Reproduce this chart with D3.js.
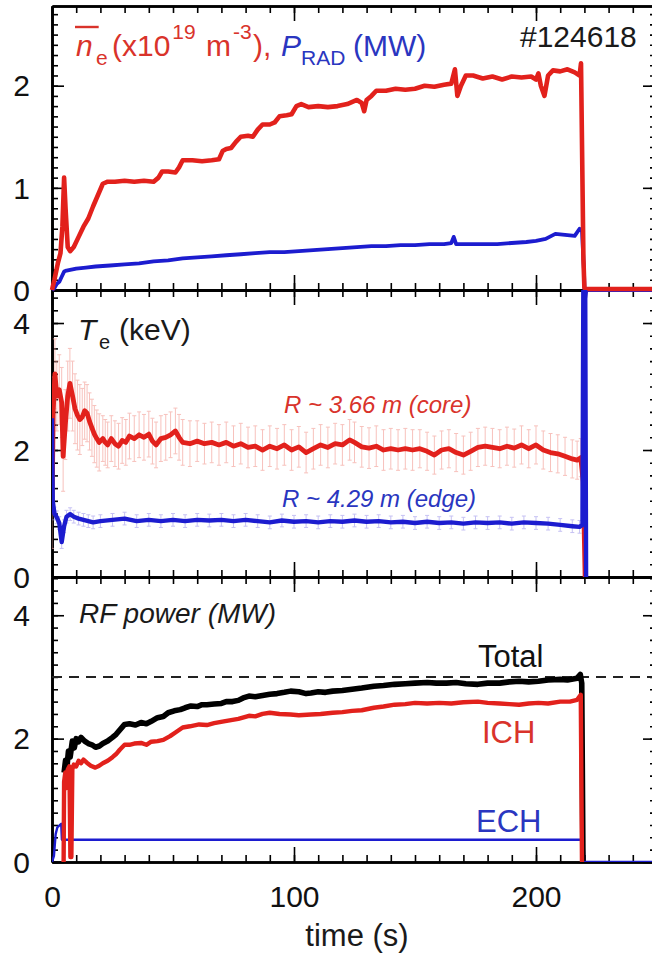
<!DOCTYPE html>
<html>
<head>
<meta charset="utf-8">
<script src="https://cdn.jsdelivr.net/npm/d3@7"></script>
<style>
  html, body { margin: 0; padding: 0; background: #fff; }
  svg { display: block; font-family: "Liberation Sans", Arial, Helvetica, sans-serif; }
  .axis path.domain { stroke: #000; stroke-width: 2.6px; }
  .axis line { stroke: #000; stroke-width: 1.6px; }
  .axis text { font-size: 30px; fill: #111; font-family: "Liberation Sans", Arial, sans-serif; }
</style>
</head>
<body>
<svg id="chart" width="652" height="955"></svg>
<script>
// ---- shot #124618 time traces: [time (s), value] ----

// line-averaged electron density (1e19 m^-3)
const density = [[0,0],[1,0.1],[2.4,0.26],[3.5,0.36],[4.3,0.62],[5,1.1],[5.6,0.8],[6.5,0.42],[7.5,0.38],[9,0.42],
  [11,0.52],[13,0.62],[15,0.7],[17,0.82],[19,0.93],[21,1.04],[23,1.06],[26,1.06],[30,1.07],[34,1.06],[38,1.07],
  [42,1.06],[44,1.1],[45.5,1.16],[48,1.16],[51,1.15],[52.5,1.2],[54,1.27],[58,1.27],[62,1.26],[66,1.27],[69,1.28],
  [70.5,1.36],[72,1.38],[74,1.39],[76,1.45],[78,1.5],[81,1.51],[83,1.5],[85,1.57],[87,1.62],[90,1.62],[92,1.64],
  [94,1.7],[97,1.71],[99,1.72],[101,1.8],[103,1.82],[106,1.79],[110,1.8],[114,1.79],[118,1.8],[122,1.82],[126,1.86],
  [128,1.83],[129,1.75],[130,1.86],[132,1.9],[134,1.95],[138,1.95],[142,1.97],[146,1.96],[150,1.97],[154,2.0],
  [158,1.99],[162,2.01],[165,2.02],[166.5,2.16],[167.5,1.9],[169,2.0],[171,2.1],[174,2.1],[178,2.07],[182,2.09],
  [186,2.06],[190,2.09],[194,2.08],[198,2.09],[200,2.06],[201,2.12],[202,2.0],[203.5,1.9],[205,2.1],[207,2.15],
  [210,2.14],[213,2.16],[216,2.13],[218,2.1],[218.6,2.22],[219.6,0.3],[220,0.02],[221,0.01],[250,0.01]];

// radiated power (MW)
const radiatedPower = [[0,0],[1,0.02],[2,0.06],[3,0.08],[4,0.13],[5,0.18],[6,0.19],[8,0.2],[10,0.21],[14,0.22],
  [18,0.23],[24,0.24],[30,0.25],[36,0.26],[42,0.28],[48,0.29],[54,0.31],[60,0.32],[66,0.33],[72,0.34],[78,0.35],
  [84,0.36],[90,0.37],[96,0.37],[102,0.38],[108,0.39],[114,0.4],[120,0.41],[126,0.42],[132,0.43],[138,0.43],
  [144,0.44],[150,0.44],[156,0.45],[162,0.45],[165,0.46],[166,0.52],[167,0.45],[172,0.45],[178,0.45],[184,0.45],
  [190,0.46],[196,0.47],[200,0.48],[204,0.5],[208,0.55],[212,0.54],[216,0.53],[218,0.6],[219,0.58],[219.8,0.2],
  [220.2,-0.1],[220.8,0.0],[250,0.0]];

// core electron temperature, R ~ 3.66 m (keV)
const coreTe = [[0,1.0],[0.5,2.6],[1.2,3.2],[2,2.85],[3,2.95],[4,2.75],[4.6,1.9],[5.5,2.4],[6.5,2.85],[7.4,3.05],
  [8.5,2.85],[9.5,2.65],[10.5,2.55],[11.5,2.48],[12.5,2.52],[13.5,2.62],[14.5,2.58],[15.5,2.45],[16.5,2.35],
  [17.5,2.25],[18.5,2.18],[19.5,2.12],[21,2.18],[22,2.12],[23,2.08],[24.5,2.18],[26,2.1],[27.5,2.06],[29,2.15],
  [30.5,2.12],[32,2.22],[34,2.18],[36,2.24],[38,2.2],[40,2.25],[41.5,2.14],[43,2.08],[45,2.18],[47,2.2],[49,2.24],
  [51,2.3],[52.5,2.2],[54,2.12],[57,2.1],[60,2.14],[63,2.1],[66,2.12],[69,2.08],[72,2.12],[75,2.06],[78,2.1],
  [81,2.04],[84,2.06],[87,2.0],[90,2.06],[93,2.02],[96,2.08],[99,2.0],[102,2.05],[105,1.96],[108,2.02],[111,2.08],
  [114,2.04],[117,2.1],[120,2.08],[123,2.16],[125,2.12],[128,2.05],[131,2.03],[134,2.06],[137,2.0],[140,2.02],
  [143,2.0],[146,2.02],[149,2.0],[152,2.02],[155,1.98],[158,1.92],[161,2.0],[164,2.02],[167,1.96],[170,1.92],
  [173,1.98],[176,2.04],[179,2.06],[182,2.04],[185,2.02],[188,2.06],[191,2.03],[194,2.08],[197,2.02],[200,2.08],
  [203,2.0],[206,1.96],[209,1.94],[212,1.9],[215,1.86],[217,1.84],[218.5,1.88],[219.5,1.5],[220.3,0.0]];

// error-bar half widths for the core channel: [from time, half width]
const coreErr = [[0,0.55],[12,0.45],[20,0.36],[60,0.32],[150,0.3]];

// edge electron temperature, R ~ 4.29 m (keV)
const edgeTe = [[0,2.5],[0.3,1.2],[1,1.0],[2,0.94],[3,0.85],[4,0.55],[5,0.8],[6,0.95],[7.5,0.99],[9,0.95],
  [11,0.92],[13,0.9],[15,0.88],[17,0.86],[20,0.88],[25,0.9],[30,0.92],[35,0.88],[40,0.9],[45,0.88],[50,0.9],
  [55,0.88],[60,0.9],[65,0.89],[70,0.9],[75,0.88],[80,0.9],[85,0.88],[90,0.86],[95,0.89],[100,0.87],[105,0.88],
  [110,0.86],[115,0.88],[120,0.87],[125,0.89],[130,0.87],[135,0.88],[140,0.86],[145,0.87],[150,0.85],[155,0.87],
  [160,0.85],[165,0.86],[170,0.84],[175,0.86],[180,0.85],[185,0.86],[190,0.84],[195,0.86],[200,0.85],[205,0.84],
  [210,0.82],[215,0.8],[218,0.79],[219.2,0.82],[219.6,5],[220.3,5],[220.7,0.0]];
const edgeErr = 0.1;

// heating power (MW)
const totalPower = [[5,1.45],[5.6,1.65],[6.2,1.55],[6.8,1.8],[7.5,1.7],[8.4,1.96],[9.2,1.85],[10,2.0],[11,1.95],
  [12,2.02],[13.5,1.96],[15,1.92],[16.5,1.9],[18,1.86],[19.6,1.88],[21,1.92],[23,1.96],[25,2.02],[26.5,2.07],
  [28,2.14],[30,2.23],[32,2.24],[34.5,2.22],[36.8,2.26],[39,2.24],[41,2.28],[43.6,2.34],[46,2.36],[48,2.42],
  [50.5,2.45],[53,2.47],[55,2.5],[57.4,2.53],[60,2.52],[62,2.55],[64,2.55],[67,2.56],[70,2.57],[72,2.6],[74.6,2.6],
  [77,2.62],[79,2.66],[81.4,2.69],[84,2.68],[87,2.7],[90,2.72],[93,2.73],[96,2.75],[98.6,2.77],[102,2.76],
  [105,2.73],[107,2.74],[110,2.76],[113,2.75],[116,2.77],[120,2.78],[124,2.8],[128,2.82],[133,2.85],[137,2.86],
  [141.6,2.88],[146,2.89],[150,2.9],[155,2.91],[158.8,2.9],[163,2.9],[167,2.91],[171,2.89],[176,2.88],[180,2.9],
  [185,2.9],[189,2.92],[193,2.93],[197,2.92],[201,2.93],[205,2.95],[210,2.96],[213,2.95],[217,2.98],[218.3,3.04],
  [218.9,2.9],[219.4,0.02]];

const ichPower = [[4.8,0],[5,1.3],[5.5,1.45],[6,1.2],[6.5,1.5],[7.2,1.55],[7.6,0.08],[8,0.08],[8.4,1.5],[9,1.58],
  [10,1.55],[11,1.64],[12,1.6],[13,1.66],[14.4,1.61],[16,1.56],[17.9,1.53],[19.5,1.56],[21,1.6],[23,1.64],[25,1.7],
  [26.5,1.75],[28,1.82],[30,1.9],[32,1.9],[34,1.92],[36.8,1.93],[39,1.9],[41,1.95],[43.6,1.96],[46,1.98],
  [48.8,2.04],[51,2.1],[54,2.18],[57,2.2],[60.8,2.23],[64,2.22],[67,2.25],[71,2.28],[74,2.3],[77,2.32],[81.4,2.37],
  [84,2.36],[87,2.4],[90,2.42],[94,2.4],[98.6,2.39],[102,2.38],[107,2.39],[111,2.4],[116,2.42],[120,2.43],
  [124,2.45],[128,2.46],[133,2.5],[137,2.52],[141.6,2.55],[146,2.56],[150,2.58],[155,2.57],[160,2.58],[165,2.57],
  [170,2.59],[176,2.6],[180,2.58],[185,2.57],[189,2.56],[193,2.55],[197,2.57],[201,2.58],[205,2.57],[210,2.6],
  [214,2.6],[217,2.63],[218.5,2.71],[219,0.0]];

const echPower = [[0,0],[0.8,0.1],[1.5,0.45],[2.2,0.56],[3.8,0.62],[4.1,0.36],[219.6,0.36],[220,0],[250,0]];

const targetPower = 3.0;

// axis ticks
const timeMajor = [0, 100, 200];
const timeMinor = d3.range(0, 251, 10);
const topMajor = [0, 1, 2];
const lowerMajor = [0, 2, 4];

// ---- drawing ----
const RED = "#e2211c", BLUE = "#1c1ccf", RED_TXT = "#d9332b", BLUE_TXT = "#2a36c0";
const svg = d3.select("#chart");

const x = d3.scaleLinear().domain([0, 250]).range([52, 657]);

const panels = [
  { key: "top", y: d3.scaleLinear().domain([0, 2.78]).range([290, 6]), major: topMajor, minorStep: 0.1 },
  { key: "mid", y: d3.scaleLinear().domain([0, 4.52]).range([577, 290]), major: lowerMajor, minorStep: 0.2 },
  { key: "bot", y: d3.scaleLinear().domain([0, 4.62]).range([862, 577]), major: lowerMajor, minorStep: 0.2 }
];

const defs = svg.append("defs");
panels.forEach(p => {
  const [y0, y1] = p.y.range();
  defs.append("clipPath").attr("id", "clip-" + p.key)
    .append("rect").attr("x", x(0)).attr("y", y1).attr("width", x(250) - x(0)).attr("height", y0 - y1);
});

const axesG = svg.append("g");
panels.forEach((p, i) => {
  const [yb, yt] = p.y.range();
  const minorY = d3.range(0, p.y.domain()[1] + 1e-9, p.minorStep).map(v => +v.toFixed(2));
  const noLabel = () => "";

  // bottom edge
  axesG.append("g").attr("class", "axis").attr("transform", `translate(0,${yb})`)
    .call(d3.axisBottom(x).tickValues(timeMinor).tickSize(-7).tickSizeOuter(0).tickFormat(noLabel));
  const bottomMajor = d3.axisBottom(x).tickValues(timeMajor).tickSize(-15).tickSizeOuter(0).tickPadding(24);
  if (i < 2) bottomMajor.tickFormat(noLabel);
  axesG.append("g").attr("class", "axis").attr("transform", `translate(0,${yb})`).call(bottomMajor);

  // top edge
  axesG.append("g").attr("class", "axis").attr("transform", `translate(0,${yt})`)
    .call(d3.axisTop(x).tickValues(timeMinor).tickSize(-7).tickSizeOuter(0).tickFormat(noLabel));
  axesG.append("g").attr("class", "axis").attr("transform", `translate(0,${yt})`)
    .call(d3.axisTop(x).tickValues(timeMajor).tickSize(-15).tickSizeOuter(0).tickFormat(noLabel));

  // left edge
  axesG.append("g").attr("class", "axis").attr("transform", `translate(${x(0)},0)`)
    .call(d3.axisLeft(p.y).tickValues(minorY).tickSize(-6).tickSizeOuter(0).tickFormat(noLabel));
  axesG.append("g").attr("class", "axis").attr("transform", `translate(${x(0)},0)`)
    .call(d3.axisLeft(p.y).tickValues(p.major).tickSize(-12).tickSizeOuter(0).tickPadding(22).tickFormat(d3.format("d")));

  // right edge
  axesG.append("g").attr("class", "axis").attr("transform", `translate(${x(250)},0)`)
    .call(d3.axisRight(p.y).tickValues(minorY).tickSize(-7).tickSizeOuter(0).tickFormat(noLabel));
  axesG.append("g").attr("class", "axis").attr("transform", `translate(${x(250)},0)`)
    .call(d3.axisRight(p.y).tickValues(p.major).tickSize(-14).tickSizeOuter(0).tickFormat(noLabel));
});
axesG.selectAll(".axis text").attr("font-size", null).attr("font-family", null);
axesG.selectAll(".axis .tick text").filter(function () { return this.textContent !== ""; })
  .attr("dy", function () { return d3.select(this.parentNode.parentNode).attr("transform").startsWith("translate(0") ? "0.71em" : "0.34em"; });

const [pTop, pMid, pBot] = panels;
const lineFor = p => d3.line().x(d => x(d[0])).y(d => p.y(d[1]));

function trace(p, data, color, width, clip) {
  const path = svg.append("path").datum(data)
    .attr("fill", "none").attr("stroke", color).attr("stroke-width", width)
    .attr("stroke-linejoin", "round").attr("stroke-linecap", "butt")
    .attr("d", lineFor(p));
  if (clip) path.attr("clip-path", `url(#clip-${p.key})`);
  return path;
}

function errorBars(p, data, halfWidth, color) {
  const g = svg.append("g").attr("clip-path", `url(#clip-${p.key})`)
    .attr("stroke", color).attr("stroke-width", 1).attr("opacity", 0.65);
  data.forEach(d => {
    const e = halfWidth(d[0]);
    const cx = x(d[0]), ylo = p.y(d[1] - e), yhi = p.y(d[1] + e);
    g.append("line").attr("x1", cx).attr("x2", cx).attr("y1", ylo).attr("y2", yhi);
    g.append("line").attr("x1", cx - 2).attr("x2", cx + 2).attr("y1", ylo).attr("y2", ylo);
    g.append("line").attr("x1", cx - 2).attr("x2", cx + 2).attr("y1", yhi).attr("y2", yhi);
  });
}

// top panel: density and radiated power
trace(pTop, radiatedPower, BLUE, 3.8, false);
trace(pTop, density, RED, 4.6, false);

// middle panel: electron temperature with error bars
const coreHalf = t => { let e = coreErr[0][1]; coreErr.forEach(c => { if (t >= c[0]) e = c[1]; }); return e; };
errorBars(pMid, coreTe.filter(d => d[0] <= 219), coreHalf, "#f4a29a");
errorBars(pMid, edgeTe.filter(d => d[0] > 0.5 && d[0] <= 219), () => edgeErr, "#a9a2ee");
trace(pMid, coreTe, RED, 4.8, true);
trace(pMid, edgeTe, BLUE, 4.4, true);

// bottom panel: RF heating power
svg.append("line")
  .attr("x1", x(0)).attr("x2", x(250)).attr("y1", pBot.y(targetPower)).attr("y2", pBot.y(targetPower))
  .attr("stroke", "#222").attr("stroke-width", 2).attr("stroke-dasharray", "10,7");
trace(pBot, echPower, BLUE, 2.4, true);
trace(pBot, totalPower, "#000", 5.6, true);
trace(pBot, ichPower, RED, 4.4, true);

// ---- labels ----
const txt = (xp, yp, size, color, str, style) => svg.append("text")
  .attr("x", xp).attr("y", yp).attr("font-size", size).attr("fill", color)
  .attr("font-style", style || "normal").text(str);

// top panel title; pieces with an x are pinned, the rest flow after the previous piece
const t1 = svg.append("text").attr("y", 56).attr("font-size", 30).attr("fill", RED_TXT);
const part = (xp, str, opts = {}) => {
  const s = t1.append("tspan").attr("y", 56 + (opts.shift || 0)).text(str);
  if (xp != null) s.attr("x", xp);
  if (opts.dx) s.attr("dx", opts.dx);
  if (opts.size) s.attr("font-size", opts.size);
  if (opts.italic) s.attr("font-style", "italic");
  if (opts.color) s.attr("fill", opts.color);
  return s;
};
const nSpan = part(76, "n", { italic: true });
part(96, "e", { size: 21, shift: 9 });
part(112, "(x10");
part(null, "19", { size: 21, shift: -17, dx: 2 });
part(206, "m");
part(null, "-3", { size: 21, shift: -17, dx: 2 });
part(253, "),");
part(281, "P", { italic: true, color: BLUE_TXT });
part(301, "RAD", { size: 21, shift: 9, color: BLUE_TXT });
part(353, "(MW)", { color: BLUE_TXT });
const nb = nSpan.node().getBBox();
svg.append("line").attr("x1", nb.x - 1).attr("x2", nb.x + nb.width + 6).attr("y1", 27).attr("y2", 27)
  .attr("stroke", RED_TXT).attr("stroke-width", 2.4);

txt(520, 47, 30, "#1a1a1a", "#124618");

// middle panel labels
const t2 = svg.append("text").attr("y", 340).attr("font-size", 30).attr("fill", "#1a1a1a");
t2.append("tspan").attr("x", 78).attr("font-style", "italic").text("T");
t2.append("tspan").attr("x", 99).attr("y", 349).attr("font-size", 20).text("e");
t2.append("tspan").attr("x", 119).attr("y", 340).text("(keV)");

txt(284, 413, 24, RED_TXT, "R ~ 3.66 m (core)", "italic");
txt(282, 507, 24, BLUE_TXT, "R ~ 4.29 m (edge)", "italic");

// bottom panel labels
txt(79, 623, 28, "#1a1a1a", "RF power (MW)", "italic");
txt(478, 667, 31, "#111", "Total");
txt(482, 743, 31, RED_TXT, "ICH");
txt(476, 832, 31, BLUE_TXT, "ECH");

svg.append("text").attr("x", 357).attr("y", 946).attr("text-anchor", "middle")
  .attr("font-size", 31).attr("fill", "#1a1a1a").text("time (s)");
</script>
</body>
</html>
